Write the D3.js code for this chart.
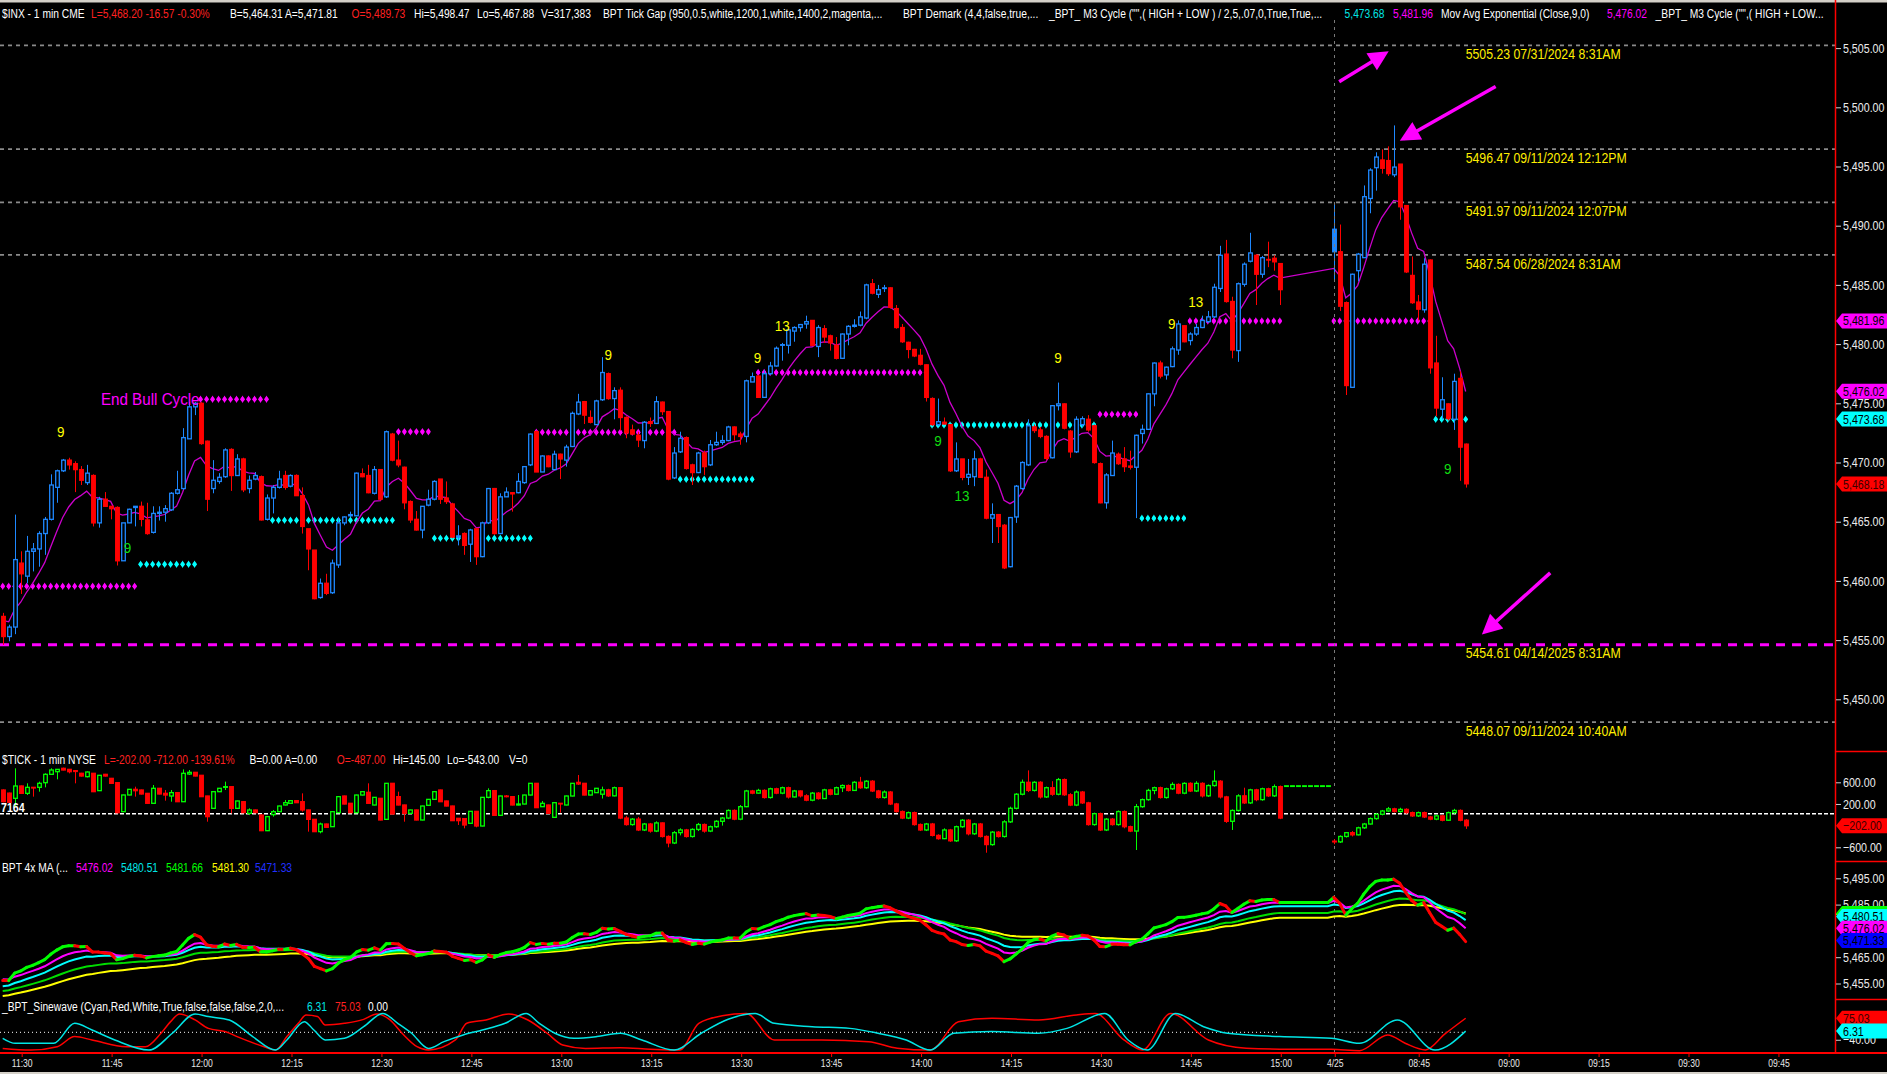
<!DOCTYPE html>
<html>
<head>
<meta charset="utf-8">
<title>$INX - 1 min</title>
<script src="https://cdn.jsdelivr.net/npm/d3@7/dist/d3.min.js"></script>
<style>
html,body{margin:0;padding:0;background:#000;overflow:hidden;}
svg{display:block;}
</style>
</head>
<body>
<svg id="chart" width="1887" height="1074"></svg>
<script>
// ===================== DATA =====================
const day2FirstBar = 222;           // first bar of 4/25 session (08:31)
const afterCloseFirstBar = 214;     // flat after-close TICK prints

const timeTickIndex  = [3,18,33,48,63,78,93,108,123,138,153,168,183,198,213,222,236,251,266,281,296];
const timeTickLabels = ["11:30","11:45","12:00","12:15","12:30","12:45","13:00","13:15","13:30","13:45","14:00","14:15","14:30","14:45","15:00","4/25","08:45","09:00","09:15","09:30","09:45"];

// $INX 1-min bars [open, high, low, close], day 1 (11:27 .. 15:00)
const priceDay1 = [
[5457.0,5457.3,5454.6,5455.3],[5455.3,5456.3,5454.9,5456.1],[5456.1,5465.6,5455.5,5461.8],[5461.5,5462.5,5458.9,5460.6],
[5460.4,5463.8,5459.8,5462.5],[5462.5,5463.2,5460.8,5462.7],[5462.7,5464.2,5461.2,5464.0],[5464.0,5465.4,5462.2,5465.2],
[5465.2,5469.0,5465.1,5468.1],[5467.9,5469.4,5466.6,5469.3],[5469.3,5470.3,5469.2,5470.2],[5470.2,5470.4,5469.4,5469.8],
[5469.9,5470.1,5467.5,5469.4],[5469.4,5469.7,5468.1,5468.5],[5468.3,5469.8,5468.1,5469.1],[5468.9,5469.0,5464.6,5464.9],
[5464.9,5467.1,5464.5,5466.9],[5466.9,5467.5,5466.3,5466.3],[5466.3,5466.3,5465.2,5466.1],[5466.2,5466.3,5461.3,5461.7],
[5461.7,5464.9,5461.7,5464.9],[5464.9,5466.1,5464.9,5466.05],[5466.2,5466.3,5464.6,5466.3],[5466.3,5466.7,5464.6,5465.2],
[5465.15,5466.6,5463.9,5464.0],[5464.1,5466.3,5464.0,5465.7],[5465.7,5466.3,5465.1,5465.8],[5465.8,5466.4,5465.0,5466.1],
[5466.0,5467.5,5465.9,5467.4],[5467.4,5469.3,5467.3,5467.7],[5467.8,5472.9,5467.7,5472.1],[5472.0,5475.1,5472.0,5474.7],
[5474.7,5475.1,5474.0,5475.0],[5475.0,5475.1,5471.5,5471.6],[5471.8,5471.85,5465.9,5466.9],[5467.8,5470.2,5467.4,5468.5],
[5468.4,5469.1,5468.2,5468.75],[5468.8,5471.2,5468.7,5471.06],[5471.1,5471.2,5467.6,5468.9],[5468.9,5470.7,5468.9,5470.3],
[5470.3,5470.4,5467.5,5467.7],[5467.8,5468.9,5467.4,5468.5],[5468.6,5469.2,5468.5,5468.9],[5468.8,5468.9,5465.1,5465.15],
[5465.2,5467.3,5465.1,5467.0],[5467.0,5468.1,5465.7,5467.9],[5467.9,5469.3,5467.8,5468.6],[5468.9,5469.3,5467.7,5467.9],
[5468.0,5469.0,5467.9,5468.9],[5468.9,5469.0,5467.2,5467.2],[5467.2,5467.9,5464.0,5464.6],[5464.4,5464.4,5460.9,5462.7],
[5462.6,5462.6,5458.45,5458.5],[5458.6,5460.2,5458.5,5459.8],[5459.8,5460.6,5458.8,5458.95],[5459.0,5461.8,5458.9,5461.5],
[5461.35,5465.4,5461.1,5464.9],[5464.9,5465.45,5464.7,5465.4],[5465.5,5465.85,5465.4,5465.6],[5465.5,5469.15,5465.5,5469.1],
[5469.05,5469.5,5468.75,5468.8],[5468.9,5469.8,5467.4,5467.45],[5467.4,5469.7,5467.3,5469.4],[5469.4,5469.4,5466.8,5466.9],
[5467.1,5472.7,5467.0,5472.6],[5472.4,5472.5,5470.1,5470.2],[5470.2,5471.85,5469.6,5469.8],[5469.6,5469.65,5466.05,5466.6],
[5466.7,5466.8,5464.9,5465.15],[5465.2,5465.9,5464.25,5464.3],[5464.3,5466.3,5463.6,5466.3],[5466.4,5467.7,5466.3,5466.9],
[5466.9,5468.5,5466.8,5468.4],[5468.6,5468.6,5466.5,5466.9],[5467.0,5468.4,5466.5,5466.7],[5466.5,5466.6,5463.6,5463.7],
[5463.7,5464.7,5463.0,5463.8],[5464.0,5464.1,5462.2,5463.0],[5463.1,5464.4,5461.6,5464.3],[5464.4,5464.45,5461.35,5462.05],
[5462.05,5465.0,5462.0,5464.9],[5464.9,5467.85,5464.8,5467.8],[5467.8,5467.85,5463.9,5464.0],[5464.0,5467.4,5463.96,5467.1],
[5467.1,5467.9,5467.1,5467.5],[5467.45,5467.5,5465.85,5467.35],[5467.45,5469.1,5467.4,5468.4],[5468.3,5469.7,5468.2,5469.65],
[5469.8,5472.45,5469.7,5472.4],[5472.6,5472.7,5469.2,5469.2],[5469.2,5470.6,5469.2,5470.55],[5470.55,5470.6,5469.6,5469.65],
[5469.4,5471.0,5469.4,5470.7],[5470.7,5470.75,5468.6,5470.3],[5470.2,5471.5,5469.65,5471.3],[5471.35,5474.3,5471.3,5474.15],
[5474.1,5475.8,5474.0,5475.1],[5475.14,5475.2,5473.25,5474.0],[5473.8,5474.4,5473.3,5473.4],[5473.2,5475.3,5473.2,5475.2],
[5475.3,5478.9,5475.2,5477.6],[5477.5,5477.6,5475.3,5475.4],[5475.4,5476.35,5473.65,5476.07],[5476.1,5476.35,5472.7,5473.8],
[5473.8,5473.9,5472.05,5472.5],[5472.75,5473.2,5472.4,5472.4],[5472.3,5472.6,5471.3,5471.9],[5471.85,5473.5,5471.2,5473.4],
[5473.45,5473.8,5473.0,5473.3],[5473.3,5475.6,5473.25,5475.14],[5475.1,5475.15,5474.0,5474.3],[5474.3,5474.3,5468.5,5468.6],
[5468.7,5471.3,5468.6,5470.8],[5470.9,5472.6,5470.8,5472.05],[5472.1,5472.2,5469.4,5469.5],[5469.8,5469.9,5468.1,5469.15],
[5469.15,5470.9,5469.1,5470.8],[5470.8,5471.0,5468.95,5469.65],[5469.8,5471.9,5469.7,5471.5],[5471.5,5472.6,5471.4,5471.7],
[5471.7,5472.3,5471.5,5471.85],[5471.85,5473.1,5471.8,5473.0],[5473.0,5473.05,5471.85,5472.35],[5472.4,5472.6,5471.5,5472.2],
[5472.2,5477.0,5471.7,5476.9],[5476.8,5477.6,5476.8,5477.25],[5477.3,5477.4,5475.45,5475.5],[5475.5,5477.8,5475.45,5477.5],
[5477.5,5478.5,5477.4,5478.15],[5478.15,5479.8,5478.1,5479.65],[5479.9,5480.1,5478.6,5479.95],[5479.9,5481.2,5479.2,5481.2],
[5481.1,5481.5,5480.2,5481.4],[5481.4,5481.7,5481.05,5481.65],[5481.7,5482.4,5481.3,5481.9],[5482.0,5482.0,5479.85,5479.9],
[5479.8,5481.6,5478.9,5481.4],[5481.3,5481.6,5480.1,5480.6],[5480.7,5480.8,5479.45,5480.1],[5479.9,5480.6,5478.7,5478.8],
[5478.8,5480.9,5478.75,5480.85],[5480.85,5481.6,5479.9,5481.5],[5481.5,5482.1,5481.4,5481.6],[5481.6,5482.75,5481.5,5482.3],
[5482.2,5485.1,5482.1,5485.0],[5485.1,5485.5,5484.2,5484.3],[5484.2,5485.0,5483.9,5484.6],[5484.7,5485.0,5484.4,5484.75],
[5484.75,5484.8,5483.0,5483.1],[5483.0,5483.3,5481.3,5481.4],[5481.4,5481.7,5480.1,5480.2],[5480.15,5480.2,5478.8,5479.55],
[5479.55,5479.6,5478.9,5479.0],[5479.05,5479.6,5478.2,5478.3],[5478.25,5478.3,5475.15,5475.5],[5475.4,5475.5,5473.1,5473.2],
[5473.2,5475.4,5473.1,5473.45],[5473.4,5473.8,5473.2,5473.25],[5473.2,5473.2,5469.2,5469.3],[5469.3,5471.7,5469.2,5470.3],
[5470.3,5470.3,5468.5,5468.75],[5468.75,5470.3,5468.1,5469.0],[5468.8,5471.0,5468.0,5470.3],[5470.3,5470.4,5468.7,5468.75],
[5468.75,5469.4,5465.2,5465.3],[5465.3,5466.55,5463.2,5465.6],[5465.6,5465.6,5463.2,5464.6],[5464.7,5464.8,5461.0,5461.1],
[5461.2,5465.4,5461.15,5465.35],[5465.4,5468.1,5464.9,5468.0],[5467.8,5470.1,5467.7,5470.0],[5469.8,5473.65,5469.7,5473.1],
[5473.0,5473.2,5472.5,5472.7],[5472.75,5473.0,5472.05,5472.2],[5472.2,5472.3,5470.2,5470.35],[5470.4,5474.85,5470.35,5474.8],
[5474.8,5476.75,5474.4,5474.95],[5474.95,5475.0,5472.8,5472.9],[5472.65,5472.75,5470.4,5470.9],[5470.9,5473.9,5470.8,5473.65],
[5473.2,5473.9,5473.0,5473.7],[5473.65,5474.0,5472.6,5472.75],[5473.1,5473.2,5469.9,5470.0],[5469.9,5470.0,5466.55,5466.6],
[5466.6,5469.1,5466.1,5468.95],[5468.9,5471.85,5468.9,5470.8],[5470.7,5470.85,5469.8,5469.9],[5470.3,5471.3,5469.2,5469.65],
[5469.7,5471.0,5469.4,5469.6],[5469.6,5472.35,5465.3,5472.3],[5472.45,5473.2,5471.6,5472.8],[5472.8,5475.85,5472.75,5475.8],
[5475.8,5478.45,5474.75,5478.4],[5478.4,5478.6,5477.1,5477.3],[5477.4,5478.1,5477.0,5478.05],[5478.1,5479.8,5478.05,5479.6],
[5479.5,5482.0,5479.1,5481.7],[5481.55,5481.6,5480.15,5480.2],[5480.3,5481.0,5479.9,5480.85],[5480.85,5481.7,5480.7,5481.4],
[5481.4,5482.4,5481.35,5482.0],[5481.9,5482.8,5481.8,5482.3],[5482.3,5485.1,5482.2,5484.8],[5484.7,5488.3,5484.4,5487.5],
[5487.6,5488.8,5483.5,5483.6],[5483.6,5484.0,5478.8,5479.5],[5479.45,5485.2,5478.5,5485.1],[5485.05,5486.9,5484.85,5486.75],
[5487.0,5489.4,5486.9,5487.7],[5487.5,5487.6,5483.3,5485.9],[5485.9,5487.45,5485.6,5487.3],[5487.15,5488.65,5486.5,5487.1],
[5487.25,5487.5,5486.2,5486.95],[5486.8,5486.8,5483.3,5484.6]
];
// day 2 (4/25, 08:31 .. 08:53)
const priceDay2 = [
[5487.8,5491.9,5485.3,5489.7],[5487.8,5490.1,5482.8,5483.2],[5483.5,5483.6,5475.7,5476.5],[5476.35,5485.95,5476.35,5485.9],
[5486.2,5487.7,5485.3,5487.6],[5487.3,5493.4,5487.3,5492.45],[5492.3,5494.85,5491.05,5494.7],[5494.9,5496.2,5492.96,5495.8],
[5495.55,5496.45,5494.4,5494.85],[5495.5,5496.7,5494.2,5494.4],[5494.3,5498.47,5494.1,5494.95],[5495.2,5495.2,5490.5,5491.6],
[5491.7,5491.7,5486.0,5486.1],[5485.8,5487.4,5483.4,5483.5],[5483.55,5484.15,5482.0,5482.95],[5482.9,5487.25,5482.65,5486.75],
[5487.1,5487.15,5477.5,5478.0],[5478.4,5480.7,5473.9,5474.6],[5474.5,5477.2,5473.65,5475.3],[5474.95,5475.0,5473.55,5473.7],
[5473.65,5477.5,5472.75,5476.85],[5477.1,5477.7,5468.45,5471.3],[5471.55,5471.6,5467.88,5468.2]
];

// $TICK 1-min bars [open, high, low, close]
const tickDay1 = [
[458,470,230,242],[400,410,220,230],[304,858,150,532],[532,540,390,396],[396,581,366,507],[507,507,335,495],
[507,612,427,581],[593,766,507,747],[747,858,735,827],[796,839,655,839],[858,870,820,827],[839,839,765,796],
[815,815,581,800],[766,775,705,716],[704,800,690,790],[766,770,420,427],[446,735,440,729],[747,755,705,716],
[673,680,570,581],[593,600,30,39],[58,370,50,366],[366,475,360,470],[470,519,335,445],[458,465,375,384],
[396,400,205,212],[212,550,205,489],[489,495,378,384],[396,458,261,365],[347,458,242,409],[409,415,236,242],
[242,839,236,766],[753,827,735,784],[784,790,710,716],[729,735,330,335],[347,350,-127,-34],[119,433,113,427],
[427,495,420,489],[507,612,458,519],[519,525,27,119],[119,261,113,255],[242,248,33,39],[27,119,-4,89],
[89,95,33,39],[-4,2,-300,-293],[-293,-28,-300,-34],[3,89,-34,58],[58,168,52,162],[181,273,175,224],
[212,267,205,261],[261,267,218,224],[242,396,58,89],[89,95,-311,-84],[-84,-78,-318,-311],[-311,-145,-342,-170],
[-170,-164,-237,-231],[-219,64,-219,58],[39,341,33,335],[347,353,193,199],[212,218,33,39],[39,371,33,365],
[365,433,359,427],[415,581,206,212],[181,328,175,322],[304,310,-102,-96],[-84,587,-90,581],[581,587,9,15],
[335,427,175,181],[181,187,-127,27],[27,95,21,89],[89,95,-102,-96],[-96,168,-102,162],[175,291,169,285],
[285,433,279,427],[458,464,236,242],[255,261,156,162],[162,168,-114,-108],[-65,-59,-188,-108],[-71,-65,-250,-188],
[-157,70,-163,64],[64,70,-231,-207],[-207,328,-213,322],[322,489,304,446],[446,452,-16,-10],[-10,353,-16,347],
[347,365,322,335],[335,341,175,181],[181,365,175,199],[199,371,193,365],[365,587,359,581],[581,587,126,132],
[150,255,144,212],[181,187,21,27],[-47,230,-53,224],[212,212,39,200],[181,353,175,347],[347,587,341,581],
[599,735,550,569],[581,587,359,365],[365,452,359,446],[409,495,403,489],
[380,520,300,460],[460,480,330,350],[350,520,340,500],[500,510,-80,-60],[-60,-20,-200,-180],[-180,-60,-200,-80],
[-80,-40,-300,-280],[-280,-150,-300,-170],[-170,-150,-330,-300],[-300,-120,-320,-150],[-150,-140,-420,-400],[-400,-380,-600,-520],
[-520,-300,-540,-330],[-330,-250,-380,-280],[-280,-260,-420,-400],[-400,-250,-420,-270],[-270,-150,-300,-180],[-180,-160,-330,-300],
[-300,-200,-320,-220],[-220,-100,-240,-120],[-120,-40,-200,-60],[-60,100,-80,80],[80,100,-100,-80],[-80,180,-100,150],
[150,460,140,440],[440,460,380,400],[400,480,390,450],[450,470,300,320],[320,500,300,480],[480,500,380,400],
[400,520,380,500],[500,520,300,330],[330,460,320,440],[440,450,320,350],[350,380,250,270],[270,420,250,400],
[400,420,280,300],[300,480,290,460],[460,480,360,380],[380,520,370,500],[500,560,420,540],[540,560,430,450],
[450,620,440,600],[600,700,480,500],[500,640,480,620],[620,640,420,440],[440,460,300,320],[320,450,300,420],
[420,440,180,200],[200,220,40,60],[60,80,-80,-60],[-60,60,-80,40],[40,60,-200,-180],[-180,-160,-300,-280],
[-280,-150,-300,-170],[-170,-150,-400,-380],[-380,-360,-460,-440],[-440,-250,-450,-280],[-280,-260,-500,-480],[-480,-200,-500,-220],
[-220,-80,-240,-100],[-100,-80,-380,-350],[-350,-150,-370,-170],[-170,-150,-420,-400],[-400,-380,-700,-550],[-550,-300,-570,-320],
[-320,-300,-420,-400],[-400,-100,-420,-130],[-130,150,-150,120],[120,400,100,380],[380,650,360,600],[600,820,420,450],
[450,620,430,600],[600,620,300,330],[330,520,310,500],[500,620,350,380],[380,680,360,650],[650,670,350,370],
[370,400,160,180],[180,450,160,420],[420,440,200,220],[220,240,-200,-180],[-180,40,-200,20],[20,40,-300,-280],
[-280,-60,-300,-80],[-80,-60,-200,-180],[-180,80,-200,60],[60,80,-250,-220],[-220,-200,-320,-300],[-300,200,-650,150],
[150,300,130,280],[280,480,260,450],[450,520,380,500],[500,520,300,320],[320,500,300,480],[480,600,460,560],
[560,580,380,400],[400,600,380,580],[580,600,420,440],[440,620,420,580],[580,600,320,350],[350,560,330,540],
[540,820,520,620],[620,640,300,330],[330,350,-150,-120],[-120,100,-280,80],[80,380,60,350],[350,500,200,220],
[220,480,200,460],[460,480,250,280],[280,500,260,480],[480,500,330,350],[350,560,330,520],[520,540,-80,-60]
];
const tickAfterClose = [535,535,535,535,535,535,535,535];
const tickDay2 = [
[-487,-450,-543,-500],[-500,-380,-520,-400],[-400,-320,-420,-330],[-330,-300,-400,-370],[-370,-220,-380,-240],
[-240,-150,-260,-170],[-170,-50,-180,-70],[-70,30,-90,10],[10,90,-10,70],[70,145,50,110],[110,130,40,60],
[60,130,40,100],[100,120,20,40],[40,60,-40,-20],[-20,60,-40,40],[40,60,-60,-40],[-40,-20,-100,-80],
[-80,0,-100,-20],[-20,0,-120,-100],[-100,60,-110,40],[40,110,20,80],[80,100,-120,-100],[-100,-80,-260,-202]
];

// Axis ticks (only those visible in the chart)
const priceAxisTicks = [5505,5500,5495,5490,5485,5480,5475,5470,5465,5460,5455,5450];
const tickAxisTicks  = [600,200,-600];
const maAxisTicks    = [5495,5485,5465,5455];
const sineAxisTicks  = [-40];

// Key horizontal levels
const levelPrices = [5505.23,5496.47,5491.97,5487.54,5454.61,5448.07];
const levelLabels = ["5505.23 07/31/2024 8:31AM","5496.47 09/11/2024 12:12PM","5491.97 09/11/2024 12:07PM","5487.54 06/28/2024 8:31AM","5454.61 04/14/2025 8:31AM","5448.07 09/11/2024 10:40AM"];
const levelIsMain = [false,false,false,false,true,false];

// M3 Cycle dotted levels
const cycleFrom  = [0,   33,   23,   66,   45,   72,   89,   113,  126,  155,  183,  190,  198,  222,  239];
const cycleTo    = [22,  44,   32,   71,   65,   88,   112,  125,  154,  182,  189,  197,  213,  238,  244];
const cyclePrice = [5459.55,5475.34,5461.40,5472.60,5465.12,5463.60,5472.55,5468.58,5477.60,5473.17,5474.07,5465.29,5481.95,5481.95,5473.65];
const cycleColor = ["m","m","c","m","c","c","m","c","m","c","m","c","m","m","c"];

// DeMark counts
const demarkIndex = [9.7, 20.8, 101, 125.9, 130, 156, 160, 176, 195, 199, 241];
const demarkPrice = [5472.58,5462.78,5479.16,5478.87,5481.53,5471.9,5467.25,5478.88,5481.74,5483.64,5469.53];
const demarkText  = ["9","9","9","9","13","9","13","9","9","13","9"];
const demarkUp    = [true,false,true,true,true,false,false,true,true,true,false];

// Sinewave indicator samples [bar, value]
const sineCyan = [[0,-32],[2.1,-59],[8.5,-59],[12,48],[14.9,12],[18.7,-41],[24.4,-95],[28.3,-5],[32.1,98],[34.3,84],[37.8,66],[41.7,-23],[45.5,-95],[47.4,-41],[50.3,57],[51.9,12],[53.8,-41],[57,-32],[60.2,30],[63.4,100],[65.9,48],[68.2,-5],[71,-86],[73.6,-50],[76.8,-14],[80,12],[83.8,48],[87.3,100],[89.5,48],[92.1,-5],[95.3,-32],[99.1,-23],[103,-5],[106.6,-41],[112,-95],[116.5,-5],[121,70],[125.5,100],[128.7,48],[135,30],[141.3,21],[146,-5],[150.7,-41],[154.7,-95],[158.6,-5],[164.9,4],[172.8,-5],[177.5,21],[183.8,100],[187.7,-41],[190.9,-95],[195.6,100],[200.3,30],[204.3,-5],[213,-23],[221.6,-32],[226.3,-59],[232.6,66],[238.9,-95],[244,6.31]];
const sineRed  = [[0,-86],[4.7,-95],[9.1,-77],[12,-23],[14.9,-41],[20.6,-77],[23.8,-77],[26.4,-5],[28,57],[29.5,98],[32.1,66],[34.3,21],[37.2,3],[39.1,-23],[43.6,-77],[45.5,-95],[47.4,-23],[49.3,48],[50.6,92],[52.5,84],[53.8,39],[57,48],[60.2,69],[62.4,98],[64.6,66],[66.6,-5],[69.1,-77],[71,-95],[75.5,-41],[77.4,48],[80.6,66],[84.4,98],[87.6,66],[90.8,-5],[93.4,-68],[97.2,-86],[103,-82],[108,-90],[112.9,-95],[116.1,48],[120,88],[124,100],[128.7,-41],[136.6,-41],[144.4,-50],[149.2,-85],[154.7,-95],[159.4,57],[165,75],[172.8,66],[179.1,93],[182.2,100],[187,-41],[190.1,-94],[194.8,100],[201.1,-41],[207.4,-85],[213,-90],[221.6,-91],[226.3,-98],[231,-14],[234,-60],[237.3,-94],[240.5,-10],[244,75.03]];

// Moving averages
const emaMainPeriod = 9;
const emaMainSeed = 5457.0;
const maPeriods = [3, 9, 15, 27, 40];
const maSeeds   = [5457.0, 5457.0, 5453.8, 5451.9, 5450.0];

// Right-axis value flags
const mainFlagValues = [5481.96, 5476.02, 5473.68, 5468.18];
const mainFlagColors = ["#ff00ff","#ff00ff","#00ffff","#ff0000"];
const tickFlagValues = [-202.00];
const maFlagValues = [5481.30, 5481.66, 5480.51, 5476.02, 5471.33];
const maFlagColors = ["#ffff00","#00ff00","#00ffff","#ff00ff","#0000ff"];
const sineFlagValues = [75.03, 6.31];
const sineFlagColors = ["#ff0000","#00ffff"];

// Arrows [bar, price] from -> to
const arrowFrom = [[222.9,5502.15],[249.0,5501.75],[258.1,5460.68]];
const arrowTo   = [[230.6,5504.55],[233.6,5497.35],[247.2,5455.7]];

// ===================== DRAWING =====================
const W = 1887, H = 1074, AX = 1835, SX = 0.82;
const FONT = '"Liberation Sans",Arial,sans-serif';
const svg = d3.select('#chart').style('font-family', FONT);
svg.append('rect').attr('width', W).attr('height', H).attr('fill', '#000');
svg.append('rect').attr('width', W).attr('height', 2.5).attr('fill', '#d4d0c8');
svg.append('rect').attr('y', H - 2).attr('width', W).attr('height', 2).attr('fill', '#d4d0c8');

const x     = d3.scaleLinear().domain([0, 305.6]).range([2.7, AX]);
const yMain = d3.scaleLinear().domain([5450, 5505]).range([699.3, 48.1]);
const yTick = d3.scaleLinear().domain([-600, 600]).range([847.3, 782.3]);
const yMA   = d3.scaleLinear().domain([5455, 5495]).range([983.5, 878.3]);
const ySine = d3.scaleLinear().domain([-100, 100]).range([1051, 1013.6]);

function ntext(parent, xx, yy, str, size, fill, anchor, sx) {
  return parent.append('text')
    .attr('transform', `translate(${xx},${yy}) scale(${sx || SX},1)`)
    .attr('font-size', size).attr('fill', fill).attr('text-anchor', anchor || 'start').text(str);
}

const defs = svg.append('defs');
function addClip(id, y0, y1) {
  defs.append('clipPath').attr('id', id).append('rect').attr('x', 0).attr('y', y0).attr('width', AX).attr('height', y1 - y0);
}
addClip('cMain', 22, 750); addClip('cTick', 752, 861); addClip('cMA', 862, 999); addClip('cSine', 1000, 1052);
defs.append('marker').attr('id', 'arrowHead').attr('viewBox', '0 0 10 10').attr('refX', 8).attr('refY', 5)
  .attr('markerWidth', 24).attr('markerHeight', 20).attr('markerUnits', 'userSpaceOnUse').attr('orient', 'auto')
  .append('path').attr('d', 'M0,0 L10,5 L0,10 Z').attr('fill', '#ff00ff');

const toBars = (rows, start) => rows.map((r, k) => ({ i: start + k, o: r[0], h: r[1], l: r[2], c: r[3] }));
const mainBars = toBars(priceDay1, 0).concat(toBars(priceDay2, day2FirstBar));
const tickBars = toBars(tickDay1, 0)
  .concat(tickAfterClose.map((v, k) => ({ i: afterCloseFirstBar + k, o: v, h: v, l: v, c: v })))
  .concat(toBars(tickDay2, day2FirstBar));

function drawCandles(g, bars, y, upCol, downCol, solidUpIndex) {
  const bw = 3.6;
  const cx = d => Math.round(x(d.i)) + 0.5;
  const up = d => d.c >= d.o;
  const col = d => up(d) ? upCol : downCol;
  const grp = g.selectAll(null).data(bars).join('g');
  grp.append('line').attr('x1', cx).attr('x2', cx)
    .attr('y1', d => y(d.h)).attr('y2', d => y(Math.max(d.o, d.c)))
    .attr('stroke', col).attr('stroke-width', 1);
  grp.append('line').attr('x1', cx).attr('x2', cx)
    .attr('y1', d => y(Math.min(d.o, d.c))).attr('y2', d => y(d.l))
    .attr('stroke', col).attr('stroke-width', 1);
  grp.append('rect')
    .attr('x', d => cx(d) - bw / 2)
    .attr('y', d => y(Math.max(d.o, d.c)))
    .attr('width', bw)
    .attr('height', d => Math.max(0.6, y(Math.min(d.o, d.c)) - y(Math.max(d.o, d.c))))
    .attr('fill', d => (up(d) && d.i !== solidUpIndex) ? '#000' : col(d))
    .attr('stroke', col).attr('stroke-width', 1.3);
}

function ema(values, period, seed) {
  const a = 2 / (period + 1); let e = seed;
  return values.map(v => (e = e + a * (v - e)));
}

// ---------- MAIN PANEL ----------
const gMain = svg.append('g').attr('clip-path', 'url(#cMain)');

levelPrices.forEach((p, k) => {
  gMain.append('line').attr('x1', 0).attr('x2', AX).attr('y1', yMain(p)).attr('y2', yMain(p))
    .attr('stroke', levelIsMain[k] ? '#ff00ff' : '#8a8a8a')
    .attr('stroke-width', levelIsMain[k] ? 3 : 1.6)
    .attr('stroke-dasharray', levelIsMain[k] ? '9,7' : '4,4');
});

svg.append('line').attr('x1', Math.round(x(day2FirstBar)) + 0.5).attr('x2', Math.round(x(day2FirstBar)) + 0.5)
  .attr('y1', 20).attr('y2', 1053).attr('stroke', '#7a7a7a').attr('stroke-width', 1).attr('stroke-dasharray', '3,4');

cycleFrom.forEach((f, k) => {
  const pts = d3.range(f, cycleTo[k] + 1);
  const fill = cycleColor[k] === 'm' ? '#ff00ff' : '#00ffff';
  gMain.selectAll(null).data(pts).join('path')
    .attr('d', d3.symbol(d3.symbolDiamond, 16))
    .attr('transform', d => `translate(${x(d)},${yMain(cyclePrice[k])})`)
    .attr('fill', fill);
  gMain.selectAll(null).data(pts).join('circle')
    .attr('cx', d => x(d)).attr('cy', yMain(cyclePrice[k])).attr('r', 2.1)
    .attr('fill', fill);
});

const emaMain = ema(mainBars.map(b => b.c), emaMainPeriod, emaMainSeed);
gMain.append('path')
  .datum(mainBars.map((b, k) => ({ i: b.i, v: emaMain[k] })))
  .attr('d', d3.line().x(d => x(d.i)).y(d => yMain(d.v)))
  .attr('fill', 'none').attr('stroke', '#cc00cc').attr('stroke-width', 1.3);

drawCandles(gMain, mainBars, yMain, '#1e88ff', '#ff0000', day2FirstBar);

demarkText.forEach((t, k) => {
  ntext(gMain, x(demarkIndex[k]), yMain(demarkPrice[k]) + 5.5, t, 15, demarkUp[k] ? '#ffff00' : '#11dd11', 'middle', 0.9);
});

ntext(gMain, x(cycleFrom[1]) - 1, yMain(cyclePrice[1]) + 5.8, 'End Bull Cycle', 16.5, '#ff00ff', 'end', 0.92);

levelLabels.forEach((t, k) => {
  ntext(gMain, 1465.7, yMain(levelPrices[k]) + 13.7, t, 15, '#ffee00', 'start', SX);
});

arrowFrom.forEach((f, k) => {
  svg.append('line').attr('x1', x(f[0])).attr('y1', yMain(f[1]))
    .attr('x2', x(arrowTo[k][0])).attr('y2', yMain(arrowTo[k][1]))
    .attr('stroke', '#ff00ff').attr('stroke-width', 3.5).attr('marker-end', 'url(#arrowHead)');
});

// ---------- TICK PANEL ----------
const gTick = svg.append('g').attr('clip-path', 'url(#cTick)');
gTick.append('line').attr('x1', 0).attr('x2', AX).attr('y1', yTick(0) - 1).attr('y2', yTick(0) - 1)
  .attr('stroke', '#ffffff').attr('stroke-width', 1.6).attr('stroke-dasharray', '4,2');
drawCandles(gTick, tickBars, yTick, '#00ff00', '#ff0000', -1);
ntext(gTick, 1, yTick(0) - 3, '7164', 13, '#ffffff', 'start', SX).attr('font-weight', 'bold');

// ---------- MA PANEL ----------
const gMA = svg.append('g').attr('clip-path', 'url(#cMA)');
const closes = mainBars.map(b => b.c);
const maSeries = maPeriods.map((p, k) => {
  const vals = ema(closes, p, maSeeds[k]);
  const pts = mainBars.map((b, j) => ({ i: b.i, v: vals[j] }));
  const lastDay1 = pts.filter(d => d.i < day2FirstBar);
  const flat = { i: day2FirstBar - 1, v: lastDay1[lastDay1.length - 1].v };
  return lastDay1.concat([flat], pts.filter(d => d.i >= day2FirstBar));
});
const maLine = d3.line().x(d => x(d.i)).y(d => yMA(d.v));
const maColors = [null, '#ff00ff', '#00ffff', '#00dd00', '#ffff00'];
[4, 3, 2, 1].forEach(k => {
  gMA.append('path').datum(maSeries[k]).attr('d', maLine).attr('fill', 'none')
    .attr('stroke', maColors[k]).attr('stroke-width', 2);
});
gMA.selectAll(null).data(d3.pairs(maSeries[0])).join('line')
  .attr('x1', d => x(d[0].i)).attr('y1', d => yMA(d[0].v))
  .attr('x2', d => x(d[1].i)).attr('y2', d => yMA(d[1].v))
  .attr('stroke', d => d[1].v >= d[0].v ? '#00ff00' : '#ff0000')
  .attr('stroke-width', 3).attr('stroke-linecap', 'round');

// ---------- SINEWAVE PANEL ----------
const gSine = svg.append('g').attr('clip-path', 'url(#cSine)');
gSine.append('line').attr('x1', 0).attr('x2', x(213)).attr('y1', ySine(0)).attr('y2', ySine(0))
  .attr('stroke', '#ffffff').attr('stroke-width', 1).attr('stroke-dasharray', '1,3');
gSine.append('line').attr('x1', x(day2FirstBar)).attr('x2', x(244)).attr('y1', ySine(0)).attr('y2', ySine(0))
  .attr('stroke', '#ffffff').attr('stroke-width', 1).attr('stroke-dasharray', '1,3');
const sineLine = d3.line().x(d => x(d[0])).y(d => ySine(d[1])).curve(d3.curveMonotoneX);
gSine.append('path').datum(sineRed).attr('d', sineLine).attr('fill', 'none').attr('stroke', '#ff0000').attr('stroke-width', 1.5);
gSine.append('path').datum(sineCyan).attr('d', sineLine).attr('fill', 'none').attr('stroke', '#00e5e5').attr('stroke-width', 1.5);

// ---------- HEADERS ----------
function header(yBase, parts) {
  parts.forEach((p, k) => {
    const t = ntext(svg, p[2], yBase, p[0], 12.5, p[1], 'start', SX);
    const nextX = k + 1 < parts.length ? parts[k + 1][2] : AX - 2;
    const avail = nextX - p[2] - 4;
    const natural = t.node().getComputedTextLength();
    if (natural * SX > avail) t.attr('transform', `translate(${p[2]},${yBase}) scale(${avail / natural},1)`);
  });
}
const WHITE = '#ffffff', RED = '#ff2020';
header(17.5, [
  ['$INX - 1 min  CME', WHITE, 2], ['L=5,468.20  -16.57  -0.30%', RED, 91], ['B=5,464.31  A=5,471.81', WHITE, 230],
  ['O=5,489.73', RED, 351.5], ['Hi=5,498.47', WHITE, 414], ['Lo=5,467.88', WHITE, 477], ['V=317,383', WHITE, 541],
  ['BPT Tick Gap (950,0.5,white,1200,1,white,1400,2,magenta,...', WHITE, 603], ['BPT Demark (4,4,false,true,...', WHITE, 903],
  ['_BPT_ M3 Cycle ("",( HIGH  +  LOW ) / 2,5,.07,0,True,True,...', WHITE, 1049], ['5,473.68', '#00e5e5', 1344.6],
  ['5,481.96', '#ff00ff', 1393], ['Mov Avg Exponential (Close,9,0)', WHITE, 1441], ['5,476.02', '#ff00ff', 1607],
  ['_BPT_ M3 Cycle ("",( HIGH  +  LOW...', WHITE, 1655.6]
]);
header(763.5, [
  ['$TICK - 1 min  NYSE', WHITE, 2], ['L=-202.00  -712.00  -139.61%', RED, 104], ['B=0.00  A=0.00', WHITE, 249.5],
  ['O=-487.00', RED, 336.8], ['Hi=145.00', WHITE, 393], ['Lo=-543.00', WHITE, 447], ['V=0', WHITE, 509]
]);
header(872, [
  ['BPT 4x MA (...', WHITE, 2], ['5476.02', '#ff00ff', 76], ['5480.51', '#00e5e5', 121], ['5481.66', '#00ff00', 166],
  ['5481.30', '#ffff00', 212], ['5471.33', '#2030ff', 255]
]);
header(1010.5, [
  ['_BPT_Sinewave (Cyan,Red,White,True,false,false,false,2,0,...', WHITE, 2], ['6.31', '#00e5e5', 307],
  ['75.03', RED, 335], ['0.00', WHITE, 368]
]);

// ---------- TIME AXIS ----------
svg.append('line').attr('x1', 0).attr('x2', W).attr('y1', 1053).attr('y2', 1053).attr('stroke', '#ff0000').attr('stroke-width', 2);
const xAxis = d3.axisBottom(x).tickValues(timeTickIndex).tickFormat((d, k) => timeTickLabels[k]).tickSize(3).tickPadding(3);
const gX = svg.append('g').attr('transform', 'translate(1,1054)').call(xAxis);
gX.select('.domain').remove();
gX.selectAll('line').attr('stroke', '#ff0000');
gX.selectAll('text').attr('fill', '#e8e8e8').attr('font-size', 10.5).style('font-family', FONT)
  .attr('transform', `scale(${SX},1)`);

// ---------- RIGHT AXES ----------
svg.append('line').attr('x1', AX + 0.5).attr('x2', AX + 0.5).attr('y1', 0).attr('y2', 1053).attr('stroke', '#ff0000').attr('stroke-width', 1.5);
[751.5, 861.5, 999.5].forEach(yy => svg.append('line').attr('x1', AX).attr('x2', W).attr('y1', yy).attr('y2', yy).attr('stroke', '#ff0000').attr('stroke-width', 1.5));

function rightAxis(scale, ticks, fmt) {
  const ax = d3.axisRight(scale).tickValues(ticks).tickFormat(fmt).tickSize(5).tickPadding(2);
  const g = svg.append('g').attr('transform', `translate(${AX + 1},0)`).call(ax);
  g.select('.domain').remove();
  g.selectAll('line').attr('stroke', '#cfcfcf');
  g.selectAll('text').attr('fill', '#ececec').attr('font-size', 13).style('font-family', FONT)
    .attr('transform', `scale(${SX},1)`).attr('x', 7 / SX);
}
rightAxis(yMain, priceAxisTicks, d3.format(',.2f'));
rightAxis(yTick, tickAxisTicks, d3.format('.2f'));
rightAxis(yMA, maAxisTicks, d3.format(',.2f'));
rightAxis(ySine, sineAxisTicks, d3.format('.2f'));

function flags(scale, values, colors, fmt) {
  values.forEach((v, k) => {
    const yy = scale(v);
    svg.append('path')
      .attr('d', `M${AX + 1},${yy} L${AX + 7},${yy - 7.5} L${W},${yy - 7.5} L${W},${yy + 7.5} L${AX + 7},${yy + 7.5} Z`)
      .attr('fill', colors[k]);
    ntext(svg, AX + 8, yy + 4.6, fmt(v), 13, colors[k] === '#ff0000' ? '#3a0000' : '#000000', 'start', SX);
  });
}
flags(yMain, mainFlagValues, mainFlagColors, d3.format(',.2f'));
flags(yTick, tickFlagValues, ['#ff0000'], d3.format('.2f'));
flags(yMA, maFlagValues, maFlagColors, d3.format(',.2f'));
flags(ySine, sineFlagValues, sineFlagColors, d3.format('.2f'));
</script>
</body>
</html>
